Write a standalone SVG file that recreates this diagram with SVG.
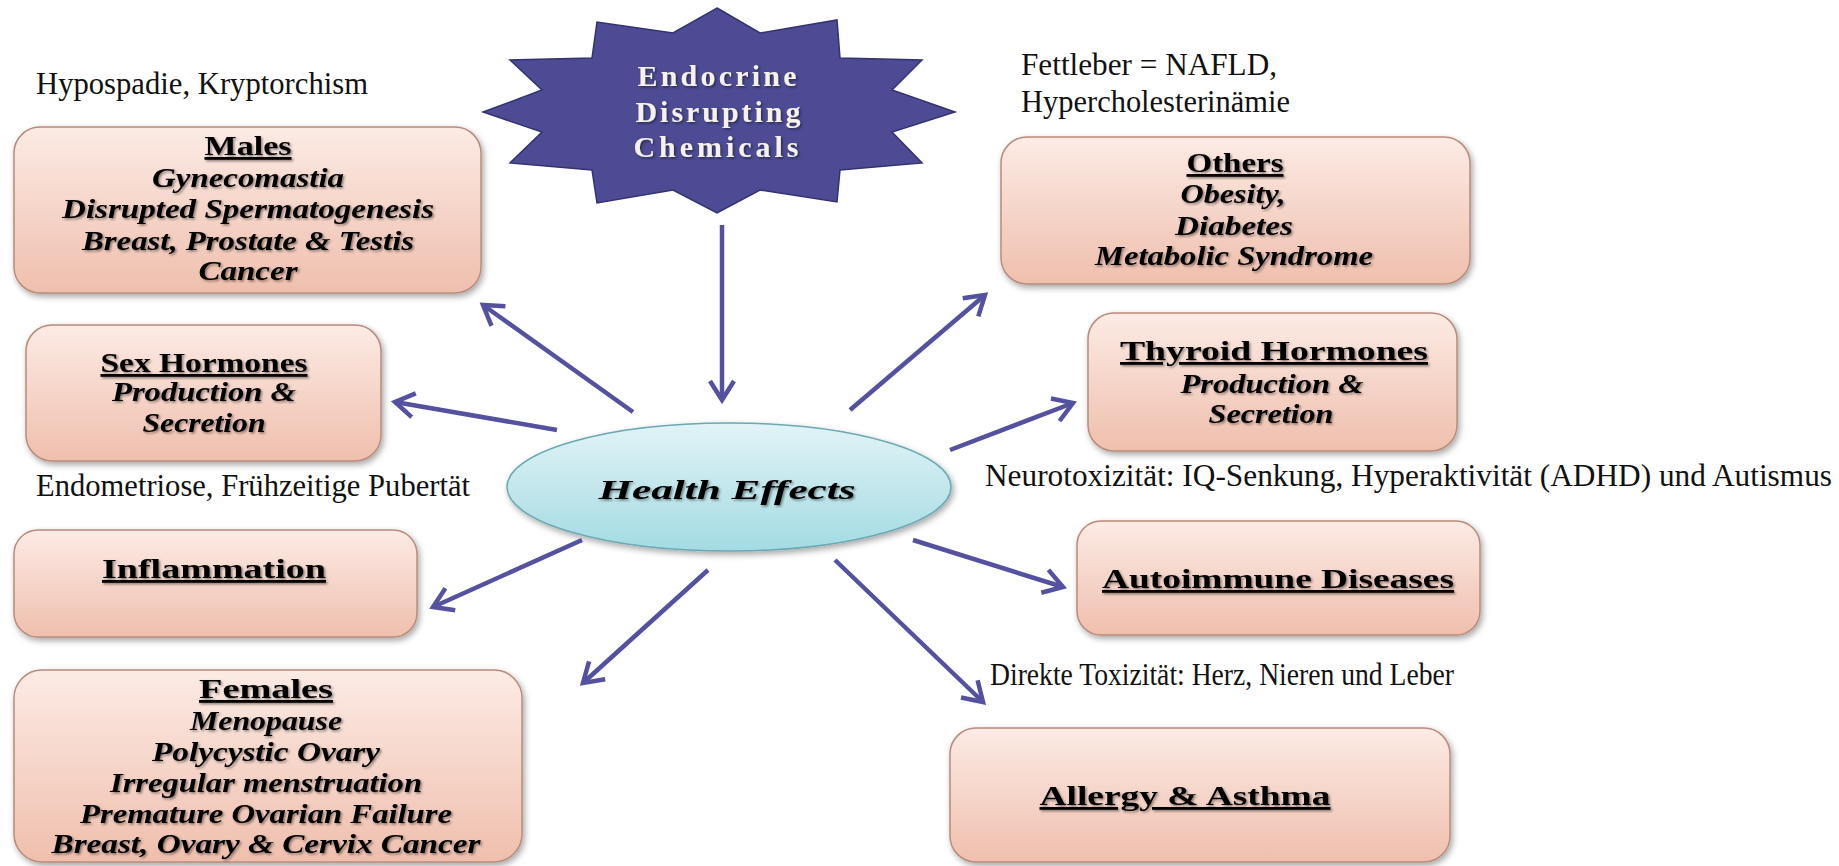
<svg xmlns="http://www.w3.org/2000/svg" width="1839" height="866" viewBox="0 0 1839 866">
<defs>
<linearGradient id="boxg" x1="0" y1="0" x2="0" y2="1">
<stop offset="0" stop-color="#fcebe5"/>
<stop offset="1" stop-color="#efbfad"/>
</linearGradient>
<linearGradient id="ellg" x1="0" y1="0" x2="0" y2="1">
<stop offset="0" stop-color="#e2f3f6"/>
<stop offset="1" stop-color="#a3dbe3"/>
</linearGradient>
<filter id="sh" x="-10%" y="-10%" width="125%" height="130%">
<feDropShadow dx="2" dy="3" stdDeviation="3" flood-color="#000" flood-opacity="0.35"/>
</filter>
<filter id="tsh" x="-5%" y="-20%" width="110%" height="150%">
<feDropShadow dx="1.5" dy="1.5" stdDeviation="1" flood-color="#000" flood-opacity="0.45"/>
</filter>
<marker id="ah" markerUnits="userSpaceOnUse" markerWidth="30" markerHeight="30" viewBox="0 0 30 30" refX="24" refY="15" orient="auto">
<path d="M5,3 L24,15 L5,27" fill="none" stroke="#5451a0" stroke-width="4.5" stroke-linejoin="miter"/>
</marker>
</defs>
<style>
.box{fill:url(#boxg);stroke:#b98b7b;stroke-width:1.5;filter:url(#sh)}
.bt{font-family:"Liberation Serif","Times New Roman",serif;font-size:27px;font-weight:bold;fill:#000;text-anchor:middle;filter:url(#tsh)}
.ti{text-decoration:underline;font-size:28px}
.it{font-style:italic}
.ann{font-family:"Liberation Serif","Times New Roman",serif;font-size:31px;fill:#111}
.con line{stroke:#5451a0;stroke-width:4.5;marker-end:url(#ah)}
.star{font-family:"Liberation Serif","Times New Roman",serif;font-size:30px;font-weight:bold;fill:#f6f2ea;text-anchor:middle;letter-spacing:2px;filter:url(#tsh)}
</style>
<rect width="1839" height="866" fill="#ffffff"/>

<g id="edc">
<polygon points="717,8 760,33 837,20 840,58 922,60 892,90 955,112 892,132 922,163 840,170 837,202 760,190 717,213 673,190 597,203 592,170 510,163 542,132 483,112 542,90 510,60 592,58 597,22 673,33" fill="#4c4b93" stroke="#333370" stroke-width="1.5"/>
<text class="star" x="718" y="86" textLength="161">Endocrine</text>
<text class="star" x="719" y="122" textLength="167">Disrupting</text>
<text class="star" x="717" y="157" textLength="167">Chemicals</text>
</g>

<g id="health-effects">
<ellipse cx="729" cy="487" rx="222" ry="64" fill="url(#ellg)" stroke="#6aa9b3" stroke-width="1.5" filter="url(#sh)"/>
<text class="bt it" x="727" y="499" font-size="37px" textLength="257" lengthAdjust="spacingAndGlyphs">Health Effects</text>
</g>

<g id="males">
<rect class="box" x="14" y="127" width="467" height="166" rx="26"/>
<text class="bt ti" x="248" y="155" textLength="87" lengthAdjust="spacingAndGlyphs">Males</text>
<text class="bt it" x="248" y="187" textLength="192" lengthAdjust="spacingAndGlyphs">Gynecomastia</text>
<text class="bt it" x="248" y="218" textLength="372" lengthAdjust="spacingAndGlyphs">Disrupted Spermatogenesis</text>
<text class="bt it" x="248" y="250" textLength="332" lengthAdjust="spacingAndGlyphs">Breast, Prostate &amp; Testis</text>
<text class="bt it" x="248" y="280" textLength="99" lengthAdjust="spacingAndGlyphs">Cancer</text>
</g>

<g id="sex-hormones">
<rect class="box" x="26" y="325" width="355" height="136" rx="26"/>
<text class="bt ti" x="204" y="372" textLength="207" lengthAdjust="spacingAndGlyphs">Sex Hormones</text>
<text class="bt it" x="204" y="401" textLength="184" lengthAdjust="spacingAndGlyphs">Production &amp;</text>
<text class="bt it" x="204" y="432" textLength="123" lengthAdjust="spacingAndGlyphs">Secretion</text>
</g>

<g id="inflammation">
<rect class="box" x="14" y="530" width="403" height="107" rx="24"/>
<text class="bt ti" x="214" y="578" textLength="224" lengthAdjust="spacingAndGlyphs">Inflammation</text>
</g>

<g id="females">
<rect class="box" x="14" y="670" width="508" height="192" rx="28"/>
<text class="bt ti" x="266" y="698" textLength="134" lengthAdjust="spacingAndGlyphs">Females</text>
<text class="bt it" x="266" y="730" textLength="152" lengthAdjust="spacingAndGlyphs">Menopause</text>
<text class="bt it" x="266" y="761" textLength="228" lengthAdjust="spacingAndGlyphs">Polycystic Ovary</text>
<text class="bt it" x="266" y="792" textLength="312" lengthAdjust="spacingAndGlyphs">Irregular menstruation</text>
<text class="bt it" x="266" y="823" textLength="372" lengthAdjust="spacingAndGlyphs">Premature Ovarian Failure</text>
<text class="bt it" x="266" y="853" textLength="429" lengthAdjust="spacingAndGlyphs">Breast, Ovary &amp; Cervix Cancer</text>
</g>

<g id="others">
<rect class="box" x="1001" y="137" width="469" height="147" rx="26"/>
<text class="bt ti" x="1235" y="172" textLength="97" lengthAdjust="spacingAndGlyphs">Others</text>
<text class="bt it" x="1233" y="203" textLength="105" lengthAdjust="spacingAndGlyphs">Obesity,</text>
<text class="bt it" x="1234" y="235" textLength="118" lengthAdjust="spacingAndGlyphs">Diabetes</text>
<text class="bt it" x="1234" y="265" textLength="278" lengthAdjust="spacingAndGlyphs">Metabolic Syndrome</text>
</g>

<g id="thyroid-hormones">
<rect class="box" x="1088" y="313" width="369" height="138" rx="26"/>
<text class="bt ti" x="1274" y="360" textLength="308" lengthAdjust="spacingAndGlyphs">Thyroid Hormones</text>
<text class="bt it" x="1272" y="393" textLength="183" lengthAdjust="spacingAndGlyphs">Production &amp;</text>
<text class="bt it" x="1271" y="423" textLength="125" lengthAdjust="spacingAndGlyphs">Secretion</text>
</g>

<g id="autoimmune">
<rect class="box" x="1077" y="521" width="403" height="114" rx="24"/>
<text class="bt ti" x="1278" y="588" textLength="352" lengthAdjust="spacingAndGlyphs">Autoimmune Diseases</text>
</g>

<g id="allergy">
<rect class="box" x="950" y="728" width="500" height="134" rx="26"/>
<text class="bt ti" x="1185" y="805" textLength="291" lengthAdjust="spacingAndGlyphs">Allergy &amp; Asthma</text>
</g>

<g id="annotations">
<text class="ann" x="36" y="94" textLength="332" lengthAdjust="spacingAndGlyphs">Hypospadie, Kryptorchism</text>
<text class="ann" x="36" y="496" textLength="434" lengthAdjust="spacingAndGlyphs">Endometriose, Frühzeitige Pubertät</text>
<text class="ann" x="1021" y="75" textLength="256" lengthAdjust="spacingAndGlyphs">Fettleber = NAFLD,</text>
<text class="ann" x="1021" y="112" textLength="269" lengthAdjust="spacingAndGlyphs">Hypercholesterinämie</text>
<text class="ann" x="985" y="486" textLength="847" lengthAdjust="spacingAndGlyphs">Neurotoxizität: IQ-Senkung, Hyperaktivität (ADHD) und Autismus</text>
<text class="ann" x="990" y="685" textLength="464" lengthAdjust="spacingAndGlyphs">Direkte Toxizität: Herz, Nieren und Leber</text>
</g>

<g id="connectors" class="con">
<line x1="722" y1="225" x2="722" y2="400"/>
<line x1="633" y1="412" x2="483" y2="305"/>
<line x1="557" y1="430" x2="395" y2="402"/>
<line x1="582" y1="540" x2="433" y2="607"/>
<line x1="708" y1="570" x2="583" y2="683"/>
<line x1="835" y1="560" x2="983" y2="702"/>
<line x1="913" y1="540" x2="1063" y2="587"/>
<line x1="950" y1="450" x2="1073" y2="403"/>
<line x1="850" y1="410" x2="985" y2="295"/>
</g>
</svg>
